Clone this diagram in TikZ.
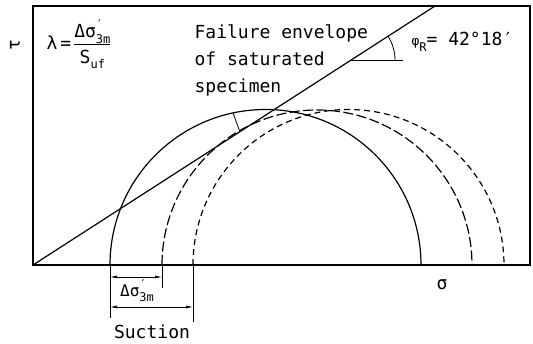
\documentclass[tikz,border=0pt]{standalone}
\usepackage{fontspec}
\setmonofont{DejaVu Sans Mono}
\usetikzlibrary{arrows.meta, positioning, calc}

\newcommand\subtxt[1]{\raisebox{-0.55ex}{\fontsize{12}{12}\selectfont #1}}
\newcommand\dsigm{Δσ\rlap{\raisebox{0.9ex}{\fontsize{12}{12}\selectfont ′}}\subtxt{3m}}

\begin{document}
\begin{tikzpicture}[
  x=1pt, y=1pt,
  >={Latex[length=7pt,width=3pt]},
  line width=1.2pt,
  every node/.style={inner sep=1pt},
  lbl/.style={font=\fontsize{18}{27}\selectfont\ttfamily},
  smalllbl/.style={font=\fontsize{16}{18}\selectfont\ttfamily},
  longdash/.style={dash pattern=on 10pt off 3.5pt},
  shortdash/.style={dash pattern=on 6pt off 4pt},
  extline/.style={line width=0.7pt},
  dimline/.style={<->, line width=0.7pt},
]

% ── Layout constants ──────────────────────────────────────────────────────────
\def\W{497}        % box width
\def\H{259}        % box height
\def\R{155.5}      % Mohr circle radius
\def\phiang{32.8}  % drawn slope of the envelope (deg)

\useasboundingbox (-33,-79) rectangle (500,265);

% ── Axes box ─────────────────────────────────────────────────────────────────
\coordinate (O) at (0,0);
\draw (O) rectangle (\W,\H);
\node[lbl, rotate=90] (tau) at (-18,220) {τ};
\node[lbl] (sig) at (409,-20) {σ};

% ── Failure envelope ─────────────────────────────────────────────────────────
\coordinate (Etop) at (402,\H);
\draw (O) -- (Etop);

% angle mark
\coordinate (V) at (318,205);
\coordinate (Vh) at (370,205);
\draw[line width=0.8pt] (V) -- (Vh);
\draw[line width=0.8pt] ($(V)+(44,0)$) arc (0:\phiang:44);
\node[lbl, anchor=west] (phi) at (377,223)
  {{\fontsize{13}{13}\selectfont φ}\subtxt{R}= 42°18′};

% ── Mohr circles ─────────────────────────────────────────────────────────────
\coordinate (A1) at (77,0);
\coordinate (A2) at (129,0);
\coordinate (A3) at (160,0);
\draw (A1) arc (180:0:\R);
\draw[longdash] (A2) arc (180:0:155);
\draw[shortdash] (A3) arc (180:0:\R);

% ── Labels ───────────────────────────────────────────────────────────────────
\node[lbl, align=left, anchor=west] (env) at (160,205)
  {Failure envelope\\of saturated\\specimen};
\coordinate (Ept) at (207,133);
\draw[line width=0.8pt] (200,152) -- (Ept);

\node[lbl, anchor=west] (lam) at (12,220)
  {λ\,=\,\begin{tabular}{@{}c@{}}\dsigm\\[-2pt]\hline S\subtxt{uf}\end{tabular}};

% ── Dimensions ───────────────────────────────────────────────────────────────
\coordinate (B1) at (77,-53);
\coordinate (B2) at (129,-23);
\coordinate (B3) at (160,-57);
\draw[extline] (A1) -- (B1);
\draw[extline] (A2) -- (B2);
\draw[extline] (A3) -- (B3);

\draw[dimline] ($(A1)+(0,-12)$) -- ($(A2)+(0,-12)$);
\node[smalllbl] (dsig) at (104,-26) {\dsigm};
\draw[dimline] ($(A1)+(0,-42)$) -- ($(A3)+(0,-42)$);
\node[lbl] (suc) at (119,-67) {Suction};

\end{tikzpicture}
\end{document}
